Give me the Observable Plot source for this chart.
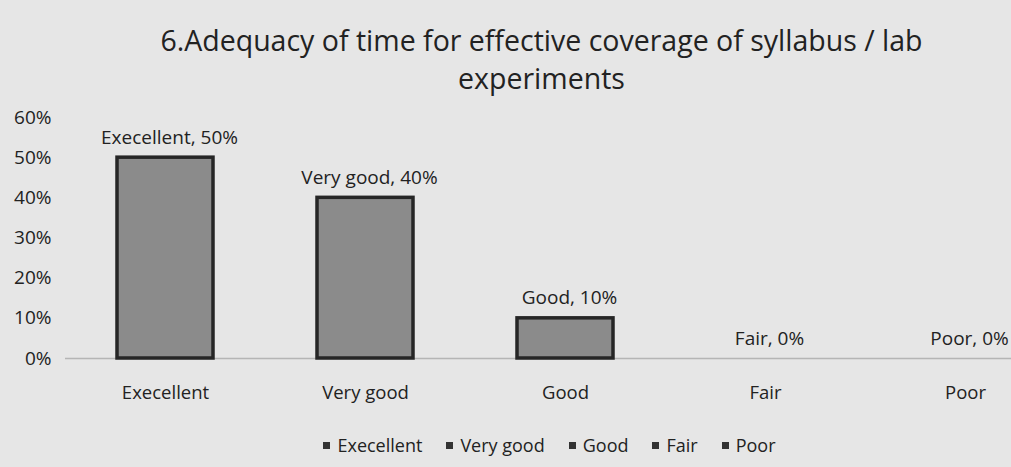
<!DOCTYPE html>
<html>
<head>
<meta charset="utf-8">
<script src="https://cdn.jsdelivr.net/npm/d3@7"></script>
<script src="https://cdn.jsdelivr.net/npm/@observablehq/plot@0.6"></script>
<style>
  html, body { margin: 0; padding: 0; background: #e6e6e6; }
  body { width: 1011px; height: 467px; overflow: hidden; font-family: "Open Sans", Lato, sans-serif; color: #222; }
  #title { height: 100px; box-sizing: border-box; padding-top: 21px; text-align: center; font-size: 28.5px; line-height: 38px; padding-left: 72px; white-space: nowrap; }
  #chart svg { display: block; background: transparent; }
  #legend { display: flex; justify-content: center; gap: 24px; font-size: 18px; margin-top: -2px; padding-left: 88px; }
  #legend .item { display: flex; align-items: center; gap: 7px; }
  #legend .sw { width: 7px; height: 7px; background: #333; display: inline-block; }
</style>
</head>
<body>
<div id="title">6.Adequacy of time for effective coverage of syllabus / lab<br>experiments</div>
<div id="chart"></div>
<div id="legend"></div>
<script>
const categories = ["Execellent", "Very good", "Good", "Fair", "Poor"];
const values = [0.50, 0.40, 0.10, 0.00, 0.00];
const yTicks = [0, 0.1, 0.2, 0.3, 0.4, 0.5, 0.6];

const data = categories.map((c, i) => ({category: c, value: values[i]}));
const pct = d3.format(".0%");

const chart = Plot.plot({
  width: 1011,
  height: 335,
  marginLeft: 65,
  marginRight: 0,
  marginTop: 17,
  marginBottom: 77,
  style: {fontFamily: "'Open Sans', Lato, sans-serif", fontSize: "18px", color: "#222", background: "transparent"},
  x: {domain: categories, range: [65, 1065], paddingInner: 0.52, paddingOuter: 0.26, label: null},
  y: {domain: [0, 0.6], ticks: yTicks, tickFormat: pct, label: null},
  marks: [
    Plot.ruleY([0], {stroke: "#b5b5b5", strokeWidth: 1.5}),
    Plot.barY(data, {x: "category", y: "value", fill: "#8b8b8b", stroke: "#262626", strokeWidth: 3.5}),
    Plot.text(data, {x: "category", y: "value", text: d => `${d.category}, ${pct(d.value)}`, dy: -20, dx: 4, fontSize: 19, fill: "#222"}),
    Plot.axisY({ticks: yTicks, tickFormat: pct, tickSize: 0, tickPadding: 14, fontSize: 19}),
    Plot.axisX({tickSize: 0, tickPadding: 27, fontSize: 18.5})
  ]
});
document.getElementById("chart").appendChild(chart);

const legend = document.getElementById("legend");
categories.forEach(c => {
  const item = document.createElement("span");
  item.className = "item";
  const sw = document.createElement("span");
  sw.className = "sw";
  item.appendChild(sw);
  item.appendChild(document.createTextNode(c));
  legend.appendChild(item);
});
</script>
</body>
</html>
